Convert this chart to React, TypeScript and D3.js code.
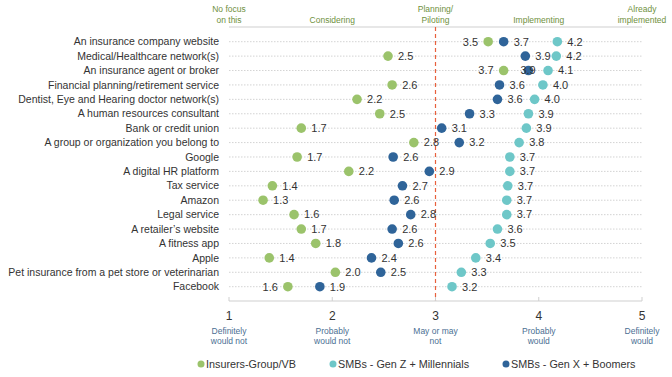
import React from "react";
import * as d3 from "d3";

const categories = [
  "An insurance company website",
  "Medical/Healthcare network(s)",
  "An insurance agent or broker",
  "Financial planning/retirement service",
  "Dentist, Eye and Hearing doctor network(s)",
  "A human resources consultant",
  "Bank or credit union",
  "A group or organization you belong to",
  "Google",
  "A digital HR platform",
  "Tax service",
  "Amazon",
  "Legal service",
  "A retailer\u2019s website",
  "A fitness app",
  "Apple",
  "Pet insurance from a pet store or veterinarian",
  "Facebook",
];

const insurers = [3.51, 2.54, 3.66, 2.58, 2.24, 2.46, 1.7, 2.79, 1.66, 2.16, 1.42, 1.33, 1.63, 1.7, 1.84, 1.39, 2.03, 1.57];
const genZ = [4.18, 4.17, 4.09, 4.04, 3.96, 3.9, 3.88, 3.81, 3.72, 3.72, 3.7, 3.69, 3.69, 3.6, 3.53, 3.39, 3.25, 3.16];
const genX = [3.66, 3.87, 3.9, 3.62, 3.6, 3.33, 3.06, 3.23, 2.59, 2.94, 2.68, 2.6, 2.76, 2.58, 2.64, 2.38, 2.47, 1.88];

// rows where a label sits to the left of its dot
const insurersLeft = [0, 2, 17];
// rows where a label overlaps its dot
const genXOver = [2];

const ticks = [1, 2, 3, 4, 5];
const tickSubLabels = [
  ["Definitely", "would not"],
  ["Probably", "would not"],
  ["May or may", "not"],
  ["Probably", "would"],
  ["Definitely", "would"],
];
const headerLabels = [
  ["No focus", "on this"],
  ["", "Considering"],
  ["Planning/", "Piloting"],
  ["", "Implementing"],
  ["Already", "implemented"],
];

const seriesNames = ["Insurers-Group/VB", "SMBs - Gen Z + Millennials", "SMBs - Gen X + Boomers"];
const colors = ["#9bc36b", "#6ec7c8", "#2f6499"];

const W = 672;
const H = 377;
const FONT = "'Liberation Sans', Arial, sans-serif";

export default function App() {
  const x = d3.scaleLinear().domain([1, 5]).range([229, 642]);
  const y = d3
    .scalePoint<number>()
    .domain(d3.range(categories.length))
    .range([41.7, 286.7]);
  const fmt = d3.format(".1f");
  const r = 4.8;
  const axisY = 301;

  const series = [
    { vals: insurers, left: insurersLeft, over: [] as number[], color: colors[0] },
    { vals: genZ, left: [] as number[], over: [] as number[], color: colors[1] },
    { vals: genX, left: [] as number[], over: genXOver, color: colors[2] },
  ];

  const legendX = [201, 333, 506];

  return (
    <svg
      width={W}
      height={H}
      style={{ position: "absolute", left: 0, top: 0, background: "#fff" }}
      fontFamily={FONT}
    >
      {/* header labels */}
      {headerLabels.map((l, i) => (
        <g key={"h" + i} fill="#6f9140" fontSize={8.5} textAnchor="middle">
          {l[0] && (
            <text x={x(ticks[i])} y={12}>
              {l[0]}
            </text>
          )}
          <text x={x(ticks[i])} y={23}>
            {l[1]}
          </text>
        </g>
      ))}
      <line x1={x(1)} x2={x(5)} y1={27} y2={27} stroke="#cfcfcf" strokeWidth={1} />

      {/* gridlines and category labels */}
      {categories.map((c, i) => (
        <g key={"r" + i}>
          <line
            x1={x(1)}
            x2={x(5)}
            y1={y(i)}
            y2={y(i)}
            stroke="#c8c8c8"
            strokeWidth={0.8}
            strokeDasharray="1.5,1.5"
          />
          <text
            x={219}
            y={y(i)!}
            dy="0.35em"
            textAnchor="end"
            fontSize={10.5}
            fill="#333"
          >
            {c}
          </text>
        </g>
      ))}

      {/* red dashed reference line */}
      <line
        x1={x(3)}
        x2={x(3)}
        y1={27}
        y2={axisY}
        stroke="#e8603c"
        strokeWidth={1.2}
        strokeDasharray="4,3"
      />

      {/* points */}
      {series.map((s, si) => (
        <g key={"s" + si}>
          {s.vals.map((v, i) => (
            <circle key={i} cx={x(v)} cy={y(i)!} r={r} fill={s.color} />
          ))}
        </g>
      ))}
      {/* labels */}
      {series.map((s, si) => (
        <g key={"sl" + si}>
          {s.vals.map((v, i) => {
            const cx = x(v);
            const cy = y(i)!;
            const isLeft = s.left.includes(i);
            const isOver = s.over.includes(i);
            const lx = isOver ? cx - 8 : isLeft ? cx - 10 : cx + 10;
            return (
              <text
                key={i}
                x={lx}
                y={cy}
                dy="0.35em"
                textAnchor={isLeft ? "end" : "start"}
                fontSize={11}
                fill="#333"
              >
                {fmt(v)}
              </text>
            );
          })}
        </g>
      ))}

      {/* bottom axis */}
      <line x1={x(1)} x2={x(5)} y1={axisY} y2={axisY} stroke="#cfcfcf" strokeWidth={1} />
      {ticks.map((t, i) => (
        <g key={"t" + i}>
          <line x1={x(t)} x2={x(t)} y1={axisY - 4} y2={axisY} stroke="#cfcfcf" />
          <text x={x(t)} y={316} dy="0.35em" textAnchor="middle" fontSize={12} fill="#333">
            {t}
          </text>
          <text x={x(t)} y={331} dy="0.35em" textAnchor="middle" fontSize={8.5} fill="#4b6f93">
            {tickSubLabels[i][0]}
          </text>
          <text x={x(t)} y={341} dy="0.35em" textAnchor="middle" fontSize={8.5} fill="#4b6f93">
            {tickSubLabels[i][1]}
          </text>
        </g>
      ))}

      {/* legend */}
      {seriesNames.map((n, i) => (
        <g key={"l" + i}>
          <circle cx={legendX[i]} cy={364} r={3.5} fill={colors[i]} />
          <text x={legendX[i] + 5} y={364} dy="0.35em" fontSize={10.8} fill="#333">
            {n}
          </text>
        </g>
      ))}
    </svg>
  );
}
